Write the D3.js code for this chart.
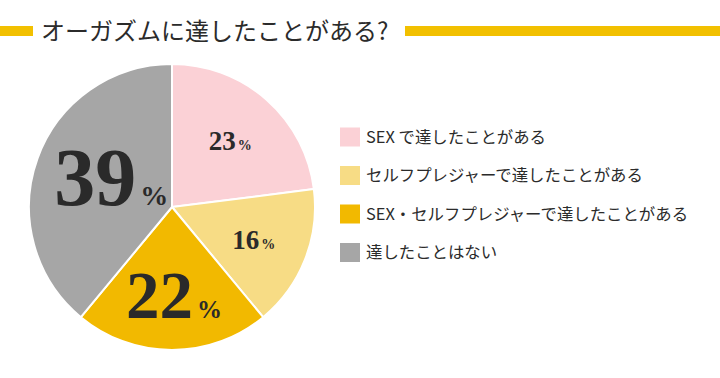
<!DOCTYPE html>
<html>
<head>
<meta charset="utf-8">
<script src="https://cdn.jsdelivr.net/npm/d3@7"></script>
<style>
  body { margin: 0; background: #fff; }
  svg { display: block; }
</style>
</head>
<body>
<svg width="720" height="378"></svg>
<script>
// data
const title = "オーガズムに達したことがある?";
const categories = [
  "SEX で達したことがある",
  "セルフプレジャーで達したことがある",
  "SEX・セルフプレジャーで達したことがある",
  "達したことはない"
];
const values = [23, 16, 22, 39];
const colors = ["#fbd1d6", "#f7dc85", "#f2b900", "#a6a6a6"];

// label look per slice (number size, % size, label radius, nudge)
const numSize = [27, 27, 67, 82];
const pctSize = [14, 14, 25, 28];
const labelR = [88, 88, 88, 70];
const nudge = [[0, 0], [0, 0], [2, 0], [5, -6]];

var svg = d3.select("svg");
var width = +svg.attr("width");
var height = +svg.attr("height");

// title bar
svg.append("rect").attr("x", 0).attr("y", 26).attr("width", 33).attr("height", 10).attr("fill", "#f2c000");
svg.append("rect").attr("x", 405).attr("y", 26).attr("width", width - 405).attr("height", 10).attr("fill", "#f2c000");
svg.append("text")
  .attr("x", 41)
  .attr("y", 40)
  .attr("font-family", "'Noto Sans CJK JP', sans-serif")
  .attr("font-size", 24)
  .attr("fill", "#2b2b2b")
  .text(title);

// pie
const cx = 172, cy = 207, r = 143;
let pie = d3.pie().sort(null).value(d => d);
let arcs = pie(values);
let arc = d3.arc().innerRadius(0).outerRadius(r);

let g = svg.append("g").attr("transform", `translate(${cx},${cy})`);

g.selectAll("path")
  .data(arcs)
  .enter()
  .append("path")
  .attr("d", arc)
  .attr("fill", (d, i) => colors[i])
  .attr("stroke", "#fff")
  .attr("stroke-width", 2)
  .attr("stroke-linejoin", "round");

let labels = g.selectAll("text.lbl")
  .data(arcs)
  .enter()
  .append("text")
  .attr("class", "lbl")
  .attr("text-anchor", "middle")
  .attr("font-family", "'Liberation Serif', 'DejaVu Serif', serif")
  .attr("font-weight", "bold")
  .attr("fill", "#2a2a2a")
  .attr("transform", (d, i) => {
    let c = d3.arc().innerRadius(labelR[i]).outerRadius(labelR[i]).centroid(d);
    return `translate(${c[0] + nudge[i][0]},${c[1] + numSize[i] * 0.34 + nudge[i][1]})`;
  });

labels.append("tspan")
  .attr("font-size", (d, i) => numSize[i])
  .text(d => d.data);
labels.append("tspan")
  .attr("font-size", (d, i) => pctSize[i])
  .attr("dx", (d, i) => i > 1 ? 4 : 2)
  .text("%");

// legend
let legend = svg.append("g")
  .selectAll("g")
  .data(categories)
  .enter()
  .append("g")
  .attr("transform", (d, i) => `translate(340,${137 + i * 38.5})`);

legend.append("rect")
  .attr("x", 0)
  .attr("y", -9.5)
  .attr("width", 20)
  .attr("height", 19)
  .attr("fill", (d, i) => colors[i]);

legend.append("text")
  .attr("x", 26)
  .attr("y", 5.5)
  .attr("font-family", "'Noto Sans CJK JP', sans-serif")
  .attr("font-size", 16.4)
  .attr("fill", "#2b2b2b")
  .text(d => d);
</script>
</body>
</html>
